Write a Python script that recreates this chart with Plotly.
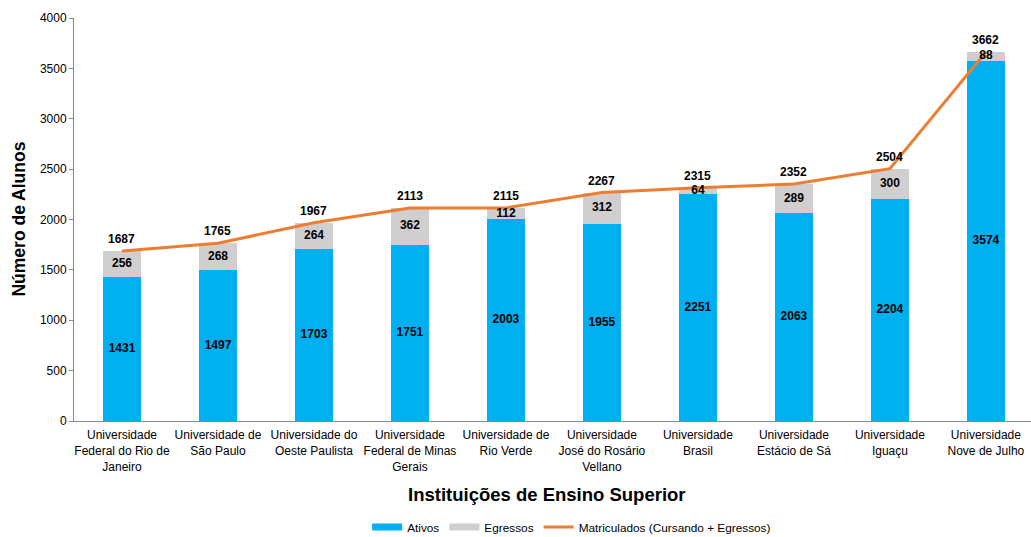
import plotly.graph_objects as go

categories = [
    "Universidade<br>Federal do Rio de<br>Janeiro",
    "Universidade de<br>São Paulo",
    "Universidade do<br>Oeste Paulista",
    "Universidade<br>Federal de Minas<br>Gerais",
    "Universidade de<br>Rio Verde",
    "Universidade<br>José do Rosário<br>Vellano",
    "Universidade<br>Brasil",
    "Universidade<br>Estácio de Sá",
    "Universidade<br>Iguaçu",
    "Universidade<br>Nove de Julho",
]
ativos = [1431, 1497, 1703, 1751, 2003, 1955, 2251, 2063, 2204, 3574]
egressos = [256, 268, 264, 362, 112, 312, 64, 289, 300, 88]
matriculados = [1687, 1765, 1967, 2113, 2115, 2267, 2315, 2352, 2504, 3662]

x = list(range(len(categories)))
BLUE = "#00B0F0"
GREY = "#D0CECE"
ORANGE = "#ED7D31"
FONT = "Liberation Sans, Arial, sans-serif"
LBL = dict(family=FONT, size=12, color="black", weight="bold")

fig = go.Figure()
fig.add_trace(go.Bar(x=x, y=ativos, name="Ativos", marker_color=BLUE,
                     marker_line_width=0, showlegend=False))
fig.add_trace(go.Bar(x=x, y=egressos, name="Egressos", marker_color=GREY,
                     marker_line_width=0, showlegend=False))
fig.add_trace(go.Scatter(x=x, y=matriculados, name="Matriculados (Cursando + Egressos)",
                         mode="lines", line=dict(color=ORANGE, width=3), showlegend=False))

# legend entries (wide rectangular swatches like the original)
fig.add_trace(go.Scatter(x=[None], y=[None], mode="lines", name="Ativos",
                         line=dict(color=BLUE, width=7)))
fig.add_trace(go.Scatter(x=[None], y=[None], mode="lines", name="Egressos",
                         line=dict(color=GREY, width=7)))
fig.add_trace(go.Scatter(x=[None], y=[None], mode="lines",
                         name="Matriculados (Cursando + Egressos)",
                         line=dict(color=ORANGE, width=3)))

# value labels
fig.add_trace(go.Scatter(x=x, y=[a / 2 for a in ativos], mode="text",
                         text=[str(a) for a in ativos], showlegend=False,
                         textfont=LBL, hoverinfo="skip"))
fig.add_trace(go.Scatter(x=x, y=[a + e / 2 for a, e in zip(ativos, egressos)], mode="text",
                         text=[str(e) for e in egressos], showlegend=False,
                         textfont=LBL, hoverinfo="skip"))

annotations = [
    dict(x=xi, y=m, xref="x", yref="y", text=str(m), showarrow=False,
         yshift=12, yanchor="middle", xanchor="center", font=LBL)
    for xi, m in zip(x, matriculados)
]
annotations += [
    dict(text="<b>Instituições de Ensino Superior</b>", x=0.494, xref="paper",
         y=-0.1836, yref="paper", showarrow=False, font=dict(size=18.5),
         xanchor="center", yanchor="middle"),
    dict(text="<b>Número de Alunos</b>", x=-0.0585, xref="paper", y=0.5,
         yref="paper", showarrow=False, font=dict(size=17.5), textangle=-90,
         xanchor="center", yanchor="middle"),
]

fig.update_layout(
    width=1031, height=537,
    barmode="stack", bargap=0.61,
    plot_bgcolor="white", paper_bgcolor="white",
    margin=dict(l=74, r=0, t=18, b=116, autoexpand=False),
    font=dict(family=FONT, size=12, color="black"),
    legend=dict(orientation="h", x=0.52, xanchor="center", y=-0.263, yanchor="middle",
                font=dict(size=11.8), traceorder="normal", itemwidth=30),
    annotations=annotations,
)
fig.update_xaxes(tickmode="array", tickvals=x, ticktext=categories, range=[-0.5, 9.47],
                 showline=True, linecolor="#888888", linewidth=1, showgrid=False,
                 ticks="", tickfont=dict(size=12), zeroline=False, automargin=False,
                 ticklabelstandoff=3)
fig.update_yaxes(range=[0, 4000], dtick=500, showline=True, linecolor="#888888",
                 linewidth=1, showgrid=False, ticks="outside", ticklen=4,
                 tickcolor="#888888", zeroline=False, tickfont=dict(size=12),
                 automargin=False)

fig.write_html("out.html", config={"displayModeBar": False},
               post_script="document.body.style.margin='0';")
